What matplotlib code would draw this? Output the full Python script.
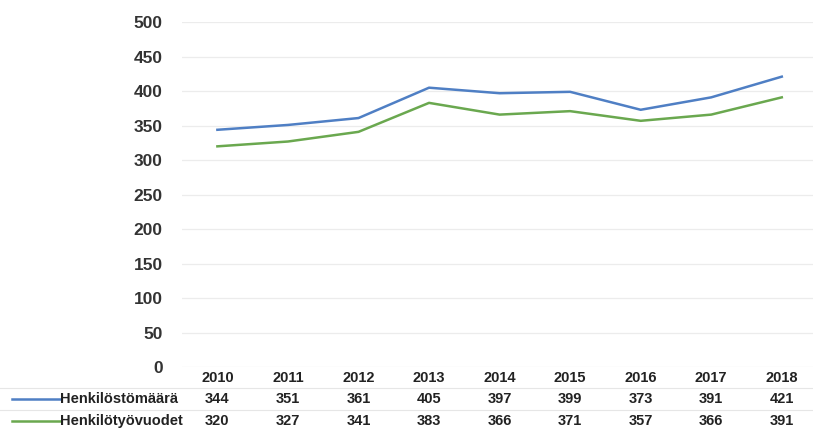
import matplotlib.pyplot as plt
import matplotlib.transforms as mtransforms
from matplotlib.lines import Line2D

years = ['2010', '2011', '2012', '2013', '2014', '2015', '2016', '2017', '2018']
henkilostomaara = [344, 351, 361, 405, 397, 399, 373, 391, 421]
henkilotyovuodet = [320, 327, 341, 383, 366, 371, 357, 366, 391]
series_names = ['Henkilöstömäärä', 'Henkilötyövuodet']
series_colors = ['#4f7fc4', '#6aa84f']

plt.rcParams['font.family'] = ['Liberation Sans', 'DejaVu Sans']

fig = plt.figure(figsize=(8.13, 4.34), dpi=100)
ax = fig.add_axes([0.224, 0.154, 0.781, 0.795])

x = list(range(len(years)))
ax.plot(x, henkilostomaara, color=series_colors[0], linewidth=1.8)
ax.plot(x, henkilotyovuodet, color=series_colors[1], linewidth=1.8)

ax.set_xlim(-0.5, len(years) - 0.5)
ax.set_ylim(0, 500)
ax.set_yticks(range(0, 501, 50))
ax.set_yticklabels([str(v) for v in range(0, 501, 50)], fontsize=12.5,
                   fontweight='bold', color='#333333')
ax.tick_params(axis='y', length=0, pad=14)
ax.set_xticks([])
ax.grid(axis='y', color='#ececec', linewidth=0.9)
ax.set_axisbelow(True)
for s in ax.spines.values():
    s.set_visible(False)

# data table under the chart
trans = mtransforms.blended_transform_factory(ax.transData, fig.transFigure)
row_y = [1 - 378 / 434, 1 - 399 / 434, 1 - 421 / 434]
for i, yr in enumerate(years):
    ax.text(i, row_y[0], yr, transform=trans, ha='center', va='center',
            fontsize=10.5, fontweight='bold', color='#222222', clip_on=False)
    ax.text(i, row_y[1], str(henkilostomaara[i]), transform=trans, ha='center',
            va='center', fontsize=10.5, fontweight='bold', color='#222222', clip_on=False)
    ax.text(i, row_y[2], str(henkilotyovuodet[i]), transform=trans, ha='center',
            va='center', fontsize=10.5, fontweight='bold', color='#222222', clip_on=False)

for k, name in enumerate(series_names):
    yy = row_y[k + 1]
    fig.add_artist(Line2D([12 / 813, 60 / 813], [yy, yy], color=series_colors[k],
                          linewidth=1.8, transform=fig.transFigure))
    fig.text(60 / 813, yy, name, ha='left', va='center', fontsize=10.5,
             fontweight='bold', color='#222222')

# faint separators between table rows
for yy in [1 - 388 / 434, 1 - 410 / 434]:
    fig.add_artist(Line2D([0, 1], [yy, yy], color='#e6e6e6', linewidth=0.8,
                          transform=fig.transFigure))

fig.savefig('out.png', dpi=100)
